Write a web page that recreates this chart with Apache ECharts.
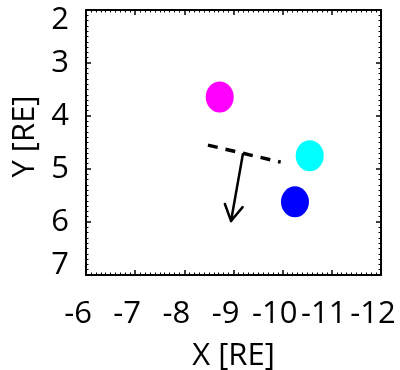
<!DOCTYPE html>
<html>
<head>
<meta charset="utf-8">
<script src="https://cdn.jsdelivr.net/npm/echarts@6/dist/echarts.min.js"></script>
<style>
  html, body { margin: 0; padding: 0; background: #fff; }
  #chart { width: 400px; height: 370px; }
</style>
</head>
<body>
<div id="chart"></div>
<script>
// point positions, in RE
const magentaPoint = [[-8.72, 3.64]]
const cyanPoint = [[-10.55, 4.75]]
const bluePoint = [[-10.25, 5.62]]

// dashed segment
const dashX = [-8.48, -9.96]
const dashY = [4.55, 4.87]

// arrow from start to tip
const arrowX = [-9.19, -8.95]
const arrowY = [4.72, 5.98]

const xTicks = [-6, -7, -8, -9, -10, -11, -12]
const yTicks = [2, 3, 4, 5, 6, 7]

const font = '"Open Sans", "Noto Sans", sans-serif'

const chart = echarts.init(document.getElementById('chart'), null, { renderer: 'canvas' })

function axisBase(isX, showLabel) {
  return {
    type: 'value',
    min: isX ? -12 : 2,
    max: isX ? -6 : 7,
    interval: 1,
    inverse: true,
    axisLine: { show: true, onZero: false, lineStyle: { color: '#000', width: 2 } },
    axisTick: { show: true, inside: true, length: 5, lineStyle: { color: '#000', width: 1.5 } },
    minorTick: { show: true, splitNumber: 10, length: 2.5, lineStyle: { color: '#000', width: 1 } },
    splitLine: { show: false },
    axisLabel: { show: showLabel, color: '#000', fontSize: 31, fontFamily: font }
  }
}

const xBottom = axisBase(true, true)
xBottom.position = 'bottom'
xBottom.name = 'X [RE]'
xBottom.nameLocation = 'middle'
xBottom.nameGap = 66
xBottom.nameTextStyle = { color: '#000', fontSize: 31, fontFamily: font }
xBottom.axisLabel.margin = 24
xBottom.axisLabel.padding = [0, 16, 0, 0]  // minus sign hangs left of the tick
xBottom.axisLabel.formatter = v => xTicks.includes(v) ? String(v) : ''

const xTop = axisBase(true, false)
xTop.position = 'top'

const yLeft = axisBase(false, true)
yLeft.position = 'left'
yLeft.name = 'Y [RE]'
yLeft.nameLocation = 'middle'
yLeft.nameGap = 40
yLeft.nameTextStyle = { color: '#000', fontSize: 31, fontFamily: font, padding: [0, 0, 0, 12] }
yLeft.axisLabel.margin = 17
yLeft.axisLabel.lineHeight = 20
yLeft.axisLabel.verticalAlignMinLabel = 'top'
yLeft.axisLabel.verticalAlignMaxLabel = 'bottom'
yLeft.axisLabel.formatter = v => yTicks.includes(v) ? String(v) : ''

const yRight = axisBase(false, false)
yRight.position = 'right'

function dot(name, data, color) {
  return {
    name: name,
    type: 'scatter',
    xAxisIndex: 0,
    yAxisIndex: 0,
    data: data,
    symbol: 'circle',
    symbolSize: [28, 31],
    itemStyle: { color: color, opacity: 1 },
    silent: true,
    z: 3
  }
}

chart.setOption({
  animation: false,
  backgroundColor: '#fff',
  grid: { left: 86, right: 19, top: 10, bottom: 95, containLabel: false, outerBoundsMode: 'none' },
  xAxis: [xBottom, xTop],
  yAxis: [yLeft, yRight],
  series: [
    dot('magenta', magentaPoint, '#ff00ff'),
    dot('cyan', cyanPoint, '#00ffff'),
    dot('blue', bluePoint, '#0000ff'),
    {
      name: 'dash',
      type: 'line',
      xAxisIndex: 0,
      yAxisIndex: 0,
      data: dashX.map((x, i) => [x, dashY[i]]),
      showSymbol: false,
      symbol: 'none',
      lineStyle: { color: '#000', width: 3.5, type: [10, 8] },
      silent: true,
      z: 4
    },
    {
      name: 'arrow',
      type: 'custom',
      xAxisIndex: 0,
      yAxisIndex: 0,
      data: [[arrowX[0], arrowY[0], arrowX[1], arrowY[1]]],
      renderItem: function (params, api) {
        const p0 = api.coord([api.value(0), api.value(1)])
        const p1 = api.coord([api.value(2), api.value(3)])
        const ang = Math.atan2(p0[1] - p1[1], p0[0] - p1[0])
        const len = 18
        const spread = Math.PI / 6
        const w1 = [p1[0] + len * Math.cos(ang + spread), p1[1] + len * Math.sin(ang + spread)]
        const w2 = [p1[0] + len * Math.cos(ang - spread), p1[1] + len * Math.sin(ang - spread)]
        const style = { stroke: '#000', lineWidth: 2.5, fill: null, lineCap: 'round', lineJoin: 'round' }
        return {
          type: 'group',
          children: [
            { type: 'line', shape: { x1: p0[0], y1: p0[1], x2: p1[0], y2: p1[1] }, style: style },
            { type: 'polyline', shape: { points: [w1, p1, w2] }, style: style }
          ]
        }
      },
      silent: true,
      z: 5
    }
  ]
})
</script>
</body>
</html>
